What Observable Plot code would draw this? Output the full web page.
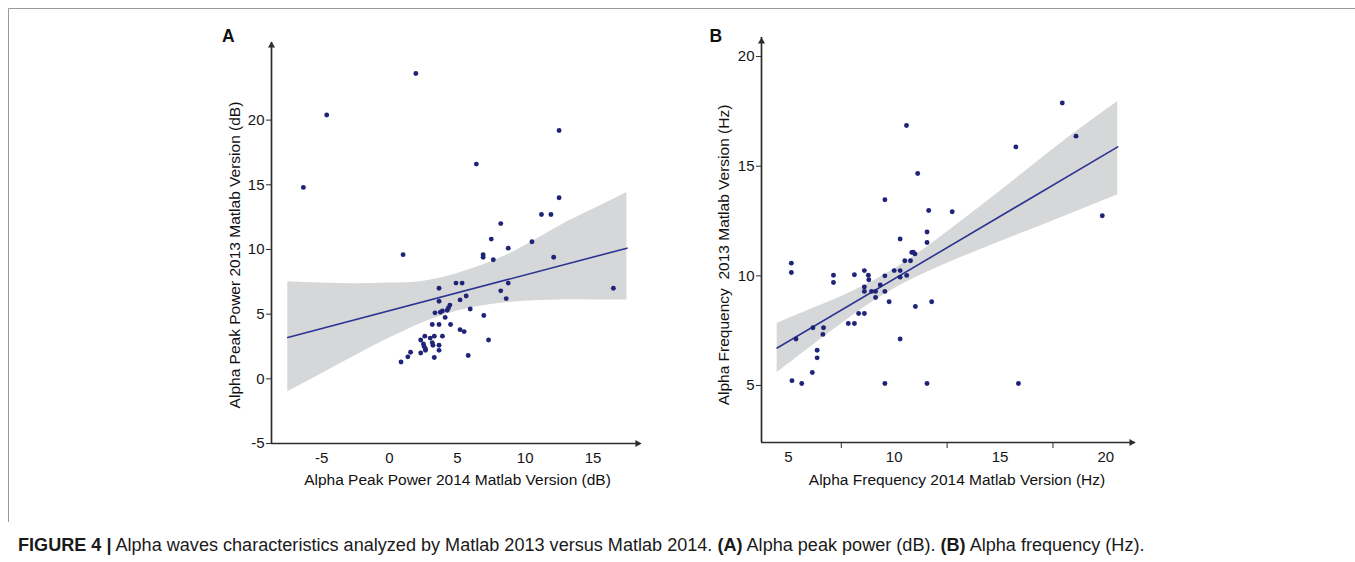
<!DOCTYPE html>
<html>
<head>
<meta charset="utf-8">
<script src="https://cdn.jsdelivr.net/npm/d3@7"></script>
<script src="https://cdn.jsdelivr.net/npm/@observablehq/plot@0.6"></script>
<style>
  html, body { margin: 0; padding: 0; background: #fff; }
  #page { position: relative; width: 1355px; height: 562px; overflow: hidden; font-family: "Liberation Sans", Arial, Helvetica, sans-serif; }
  #panelA { position: absolute; left: 0; top: 0; }
  #panelB { position: absolute; left: 700px; top: 0; }
  #overlay { position: absolute; left: 0; top: 0; pointer-events: none; }
</style>
</head>
<body>
<div id="page">
  <div id="panelA"></div>
  <div id="panelB"></div>
  <svg id="overlay" width="1355" height="562"></svg>
</div>
<script>
// ---------- Panel A data: Alpha Peak Power (dB) ----------
const powerX2014 = [-6.35, -4.63, 1.94, 6.4, 12.5, 12.5, 11.2, 11.9, 8.2, 7.5, 10.5, 8.75, 1.0, 6.9, 6.9, 7.65, 12.1, 16.5,
  8.2, 8.75, 8.6, 6.95, 7.3, 5.8, 5.95, 3.65, 4.9, 5.35, 3.65, 5.2, 5.65, 4.45, 4.35, 4.25, 3.9, 3.75, 3.35, 4.1,
  3.15, 3.65, 4.5, 5.2, 5.5, 3.9, 2.6, 3.0, 3.3, 2.3, 2.5, 2.55, 2.65, 3.15, 3.2, 3.65, 3.65, 2.65, 2.3, 1.55, 1.35, 0.85, 3.3];
const powerY2013 = [14.8, 20.4, 23.6, 16.6, 19.2, 14.0, 12.7, 12.7, 12.0, 10.8, 10.6, 10.1, 9.6, 9.6, 9.4, 9.2, 9.4, 7.0,
  6.8, 7.4, 6.2, 4.9, 3.0, 1.8, 5.4, 7.0, 7.4, 7.4, 6.0, 6.1, 6.4, 5.7, 5.5, 5.3, 5.25, 5.15, 5.1, 4.75,
  4.2, 4.2, 4.2, 3.8, 3.65, 3.3, 3.3, 3.15, 3.3, 3.0, 2.7, 2.5, 2.3, 2.8, 2.6, 2.6, 2.2, 2.2, 2.0, 2.05, 1.7, 1.3, 1.65];
const powerFitX = [-7.5, 17.5];
const powerFitY = [3.2, 10.1];
const powerBandX  = [-7.5, -5, -2.5, 0, 2.5, 5, 7.5, 10, 12.5, 15, 17.5];
const powerBandLo = [-1.0, 0.4, 1.8, 3.15, 4.35, 5.25, 5.75, 6.0, 6.1, 6.1, 6.1];
const powerBandHi = [7.5, 7.4, 7.35, 7.4, 7.55, 8.15, 9.05, 10.3, 11.8, 13.1, 14.4];
const powerTicksX = [-5, 0, 5, 10, 15];
const powerTicksY = [-5, 0, 5, 10, 15, 20];

// ---------- Panel B data: Alpha Frequency (Hz) ----------
const freqX2014 = [17.94, 10.58, 18.59, 15.75, 11.11, 9.56, 11.63, 12.74, 19.83, 10.28, 11.55, 11.55, 10.83, 10.9, 10.98,
  10.5, 10.77, 5.14, 5.14, 10.0, 10.28, 8.59, 7.13, 7.13, 8.12, 8.78, 8.8, 9.56, 10.28, 10.59, 8.59, 8.59, 8.93, 9.12,
  9.12, 9.34, 9.56, 9.76, 11.77, 11.0, 10.28, 8.32, 8.59, 7.83, 8.12, 6.16, 6.66, 6.63, 5.36, 6.36, 6.36, 6.13, 5.17,
  5.63, 9.56, 11.55, 15.87];
const freqY2013 = [17.88, 16.86, 16.37, 15.88, 14.67, 13.47, 12.98, 12.92, 12.74, 11.68, 12.0, 11.52, 11.07, 11.08, 11.0,
  10.69, 10.69, 10.58, 10.15, 10.24, 10.24, 10.24, 10.03, 9.7, 10.05, 10.03, 9.82, 10.0, 9.94, 10.02, 9.49, 9.29, 9.29, 9.29,
  9.01, 9.58, 9.29, 8.82, 8.82, 8.6, 7.12, 8.28, 8.28, 7.83, 7.83, 7.63, 7.63, 7.33, 7.12, 6.61, 6.26, 5.59, 5.22,
  5.09, 5.09, 5.09, 5.09];
const freqFitX = [4.47, 20.56];
const freqFitY = [6.71, 15.88];
const freqBandX  = [4.47, 6, 8, 10, 12, 14, 16, 18, 20.56];
const freqBandLo = [5.59, 6.72, 8.16, 9.41, 10.36, 11.17, 11.94, 12.7, 13.7];
const freqBandHi = [7.83, 8.45, 9.28, 10.31, 11.64, 13.11, 14.62, 16.14, 17.95];
const freqTicksX = [5, 10, 15, 20];
const freqMinorTicksX = [7.5, 12.5, 17.5];
const freqTicksY = [5, 10, 15, 20];

// ---------- Text ----------
const labelA = "A", labelB = "B";
const xTitleA = "Alpha Peak Power 2014 Matlab Version (dB)";
const yTitleA = "Alpha Peak Power 2013 Matlab Version (dB)";
const xTitleB = "Alpha Frequency 2014 Matlab Version (Hz)";
const yTitleB = "Alpha Frequency  2013 Matlab Version (Hz)";
const captionParts = [
  ["FIGURE 4 |", true], [" Alpha waves characteristics analyzed by Matlab 2013 versus Matlab 2014. ", false],
  ["(A)", true], [" Alpha peak power (dB). ", false], ["(B)", true], [" Alpha frequency (Hz).", false]
];

const zip = (xs, ys) => xs.map((x, i) => ({x, y: ys[i]}));
const band = (xs, lo, hi) => xs.map((x, i) => ({x, lo: lo[i], hi: hi[i]}));

const DOT = "#1f2479", LINE = "#2d3391", BAND = "#d6d7d9", AXIS = "#2e2e2e";
const FONT = "'Liberation Sans', Arial, Helvetica, sans-serif";

function panel({width, height, margins, xDomain, yDomain, pts, fit, bnd, ticksX, ticksY, minorX, arrowOff}) {
  const [x0, x1] = xDomain, [y0, y1] = yDomain;
  const marks = [
    Plot.areaY(bnd, {x: "x", y1: "lo", y2: "hi", fill: BAND, curve: "natural"}),
    Plot.line(fit, {x: "x", y: "y", stroke: LINE, strokeWidth: 1.6}),
    Plot.dot(pts, {x: "x", y: "y", r: 2.45, fill: DOT, stroke: "none"}),
    Plot.axisY({ticks: ticksY, tickSize: 5, tickPadding: 2, tickFormat: d => String(d), label: null, stroke: AXIS, fill: "#151515"}),
    Plot.axisX({ticks: ticksX, tickSize: 0, tickPadding: 9, tickFormat: d => String(d), label: null, fill: "#151515"}),
    Plot.ruleX([x0], {y1: y0, y2: y1, stroke: AXIS, strokeWidth: 1.7}),
    Plot.ruleY([y0], {x1: x0, x2: x1, stroke: AXIS, strokeWidth: 1.7}),
    Plot.dot([{x: x0, y: y1}], {x: "x", y: "y", symbol: "triangle2", r: 3.4, fill: AXIS, stroke: "none", dy: arrowOff}),
    Plot.dot([{x: x1, y: y0}], {x: "x", y: "y", symbol: "triangle2", r: 3.4, fill: AXIS, stroke: "none", rotate: 90, dx: -arrowOff})
  ];
  if (minorX) marks.push(Plot.axisX({ticks: minorX, tickSize: 6, tickFormat: () => "", label: null, stroke: AXIS}));
  return Plot.plot({
    width, height,
    marginLeft: margins[0], marginRight: margins[1], marginTop: margins[2], marginBottom: margins[3],
    x: {domain: xDomain}, y: {domain: yDomain},
    style: {fontFamily: FONT, fontSize: "15px", color: "#151515", background: "transparent", overflow: "visible"},
    marks
  });
}

document.getElementById("panelA").appendChild(panel({
  width: 700, height: 500, margins: [271, 60, 42, 57],
  xDomain: [-8.7, 18.5], yDomain: [-5, 26],
  pts: zip(powerX2014, powerY2013), fit: zip(powerFitX, powerFitY),
  bnd: band(powerBandX, powerBandLo, powerBandHi),
  ticksX: powerTicksX, ticksY: powerTicksY, arrowOff: 3
}));

document.getElementById("panelB").appendChild(panel({
  width: 655, height: 500, margins: [61, 220, 37, 58],
  xDomain: [3.73, 21.4], yDomain: [2.4, 20.87],
  pts: zip(freqX2014, freqY2013), fit: zip(freqFitX, freqFitY),
  bnd: band(freqBandX, freqBandLo, freqBandHi),
  ticksX: freqTicksX, ticksY: freqTicksY, minorX: freqMinorTicksX, arrowOff: 4
}));

// ---------- Overlay: frame, panel letters, axis titles, caption ----------
const ov = d3.select("#overlay");
ov.append("path").attr("d", "M1355,8.5H8.5V522").attr("fill", "none").attr("stroke", "#9a9a9a").attr("stroke-width", 1);

const txt = (x, y, s, opts = {}) => ov.append("text").attr("x", x).attr("y", y)
  .attr("font-family", FONT).attr("font-size", opts.size || 15.5).attr("font-weight", opts.bold ? "bold" : null)
  .attr("text-anchor", opts.anchor || "start").attr("fill", "#111")
  .attr("transform", opts.rotate ? `rotate(-90 ${x} ${y})` : null)
  .style("white-space", "pre").text(s);

txt(222, 42, labelA, {size: 17.5, bold: true});
txt(709.5, 42, labelB, {size: 17.5, bold: true});
txt(457.5, 484.5, xTitleA, {anchor: "middle"});
txt(957, 484.5, xTitleB, {anchor: "middle"});
txt(240, 255, yTitleA, {anchor: "middle", rotate: true});
txt(728.5, 255, yTitleB, {anchor: "middle", rotate: true});

const cap = ov.append("text").attr("x", 18).attr("y", 551).attr("font-family", FONT).attr("font-size", 16.5).attr("fill", "#1a1a1a");
captionParts.forEach(([s, b]) => cap.append("tspan").attr("font-weight", b ? "bold" : null).style("white-space", "pre").text(s));
const w = cap.node().getComputedTextLength();
if (w > 0) cap.attr("font-size", 16.5 * 1127 / w);
</script>
</body>
</html>
